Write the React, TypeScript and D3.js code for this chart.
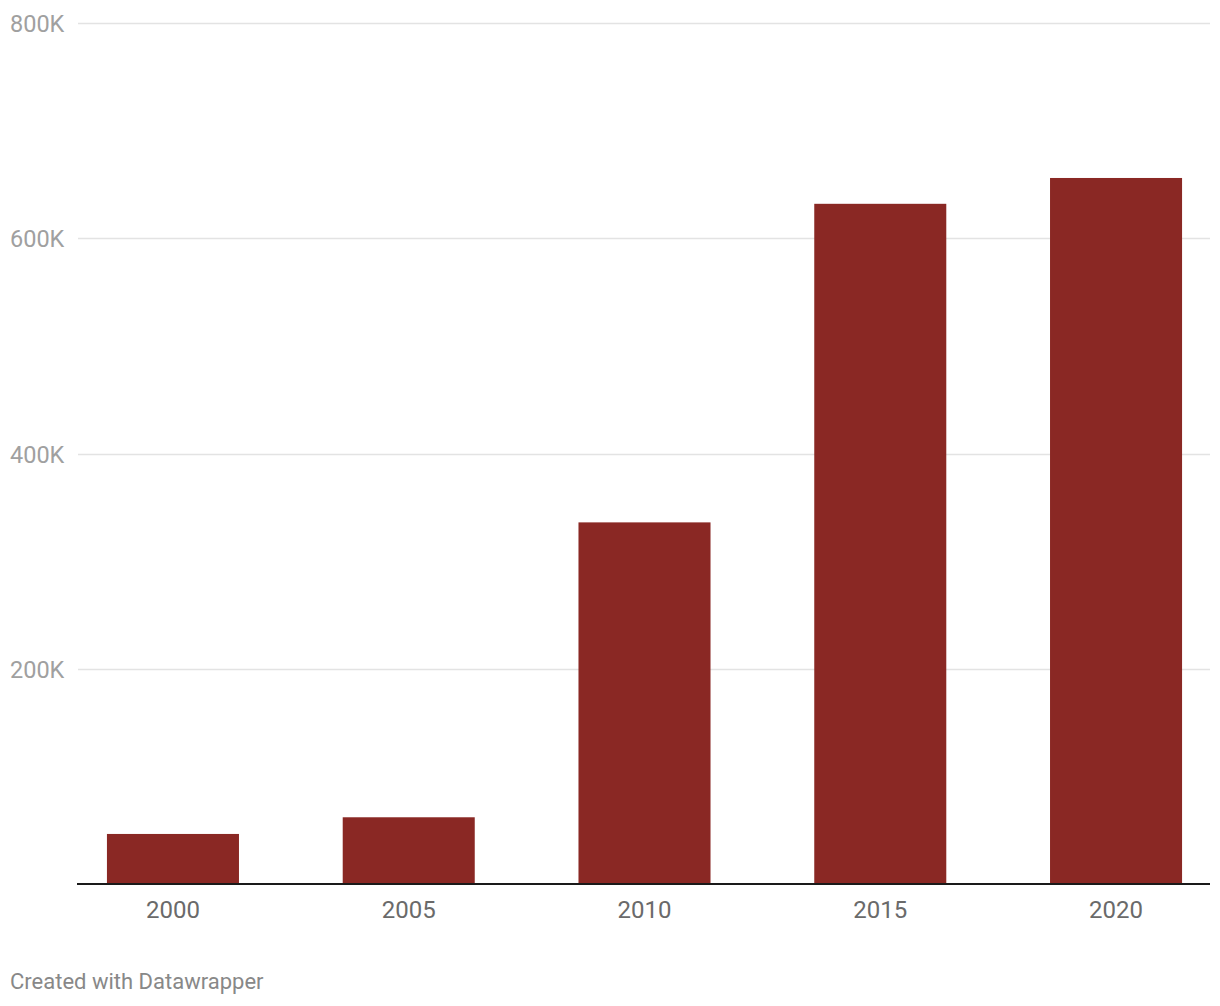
import React from "react";
import * as d3 from "d3";

const years = ["2000", "2005", "2010", "2015", "2020"];
const values = [46500, 62000, 336000, 632000, 656000];
const yTicks = [0, 200000, 400000, 600000, 800000];

const W = 1220;
const H = 1006;
const left = 77;
const right = 1210;
const top = 23;
const bottom = 884;

export default function App() {
  const x = d3.scaleBand<string>().domain(years).range([left, 1212]).paddingInner(0.44).paddingOuter(0.127);
  const y = d3.scaleLinear().domain([0, 800000]).range([bottom, top]);
  const fmt = (v: number) => (v === 0 ? "" : `${v / 1000}K`);
  return (
    <svg width={W} height={H} style={{ position: "absolute", left: 0, top: 0, fontFamily: "Roboto, sans-serif" }}>
      <rect width={W} height={H} fill="#fff" />
      {yTicks.filter((t) => t > 0).map((t) => (
        <g key={t}>
          <line x1={78} x2={right} y1={Math.round(y(t)) + 0.5} y2={Math.round(y(t)) + 0.5} stroke="#e3e3e3" strokeWidth={1.5} />
          <text x={10} y={y(t) + 9} fontSize={23.5} fill="#a0a0a0">{fmt(t)}</text>
        </g>
      ))}
      {years.map((yr, i) => (
        <rect key={yr} x={x(yr)} y={y(values[i])} width={x.bandwidth()} height={bottom - y(values[i])} fill="#8a2824" />
      ))}
      <line x1={left} x2={right} y1={bottom} y2={bottom} stroke="#1a1a1a" strokeWidth={2} />
      {years.map((yr) => (
        <text key={yr} x={(x(yr) as number) + x.bandwidth() / 2} y={918} fontSize={24} fill="#6a6a6a" textAnchor="middle">{yr}</text>
      ))}
      <text x={10} y={989} fontSize={22} fill="#888">Created with Datawrapper</text>
    </svg>
  );
}
